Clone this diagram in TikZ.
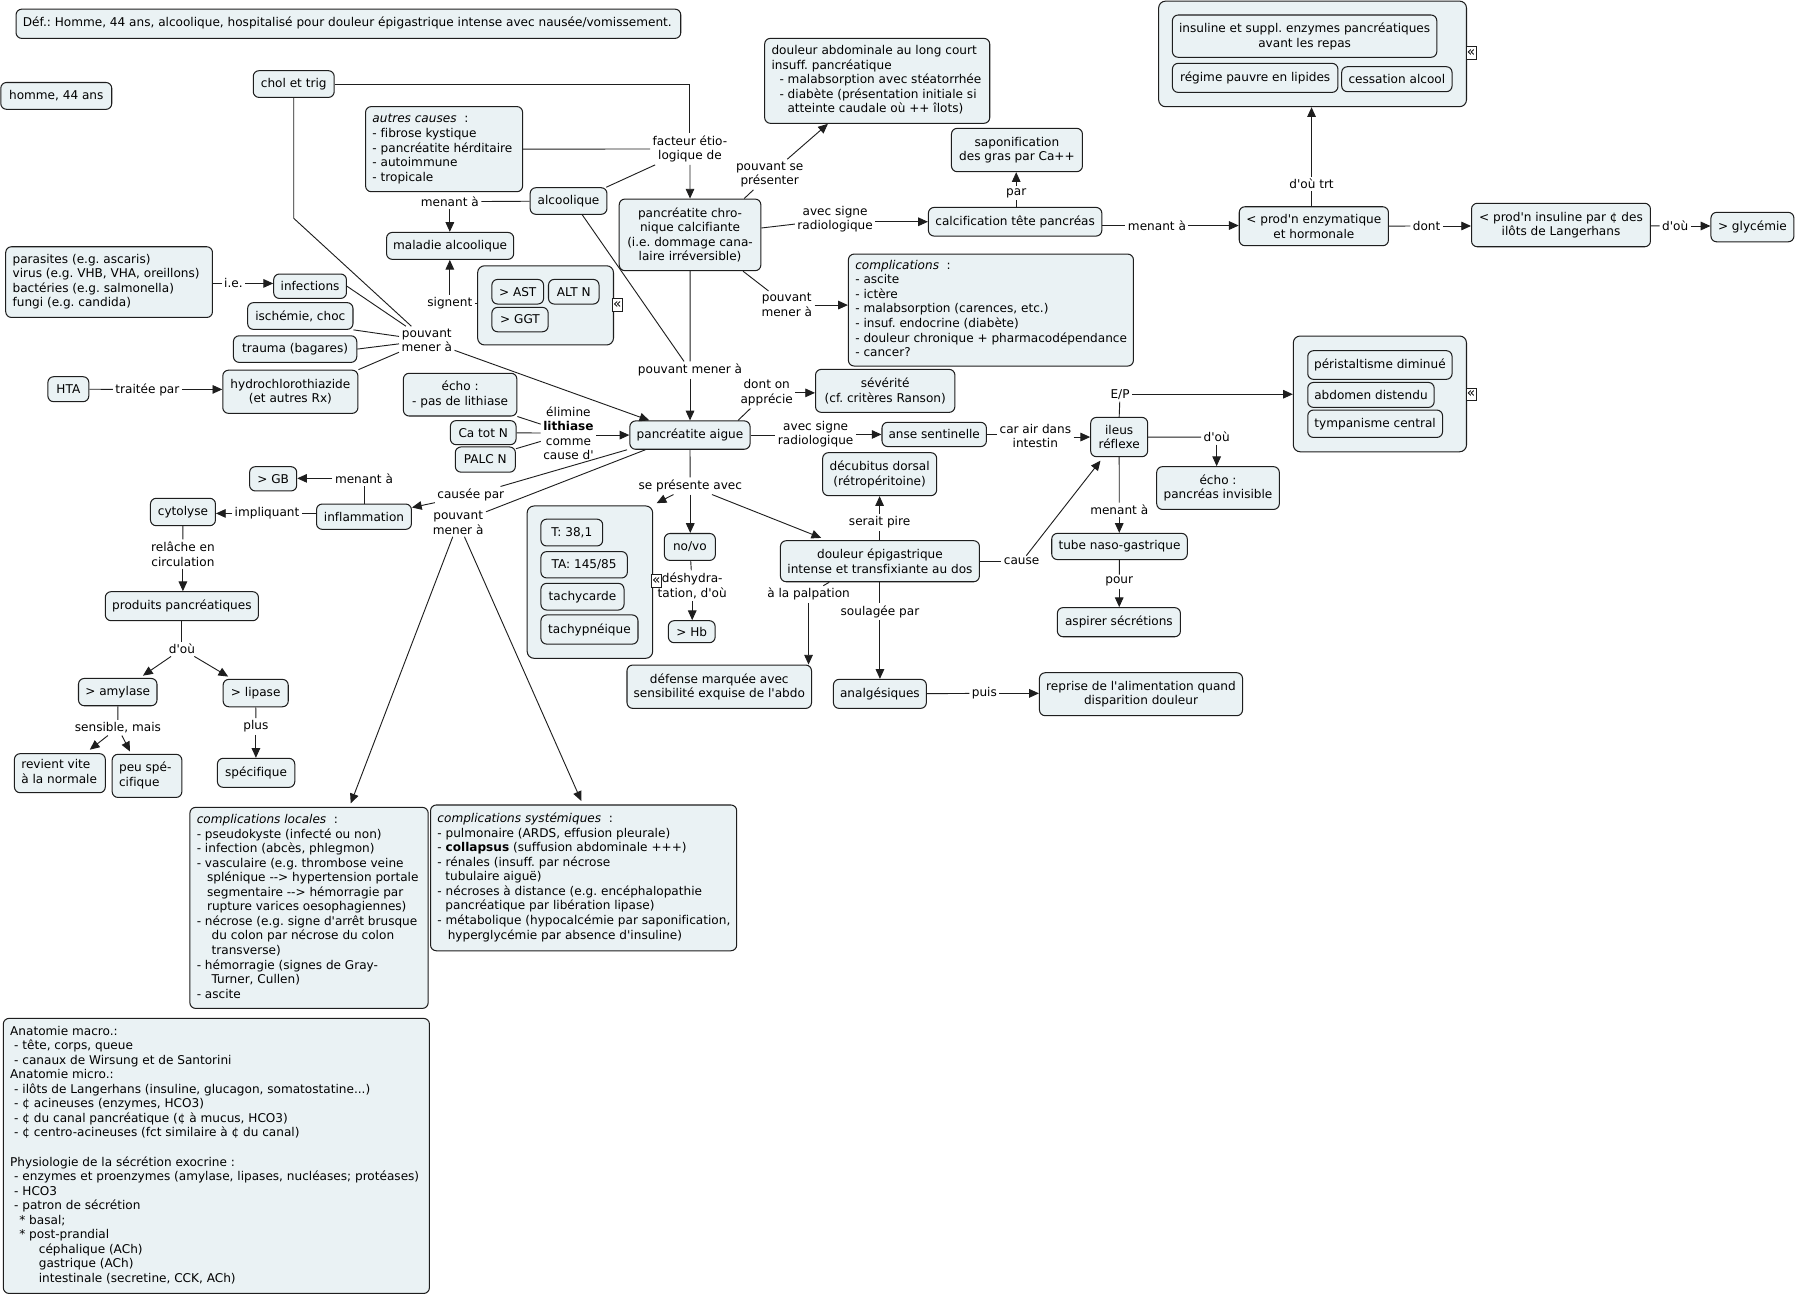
\documentclass[tikz,border=0pt]{standalone}
\usepackage{fontspec}
\setmainfont{DejaVu Sans}[Ligatures={TeXOff,NoCommon}]
\frenchspacing
\usetikzlibrary{arrows.meta}
\definecolor{boxfill}{RGB}{234,242,244}
\definecolor{edge}{RGB}{30,30,30}
\tikzset{
 box/.style={draw=edge, fill=boxfill, rounded corners=5pt, line width=0.9pt, inner xsep=4pt, inner ysep=2pt, align=center},
 lbox/.style={box, inner xsep=6pt},
 grp/.style={draw=edge, fill=boxfill, rounded corners=6pt, line width=0.9pt, inner sep=0pt},
 lbl/.style={inner sep=2pt, align=center},
 ln/.style={line width=0.8pt, draw=edge},
 arr/.style={line width=0.8pt, draw=edge, -{Triangle[length=8.5pt,width=7.5pt]}},
 icon/.style={draw=edge, fill=white, line width=0.7pt, inner sep=0pt, minimum width=9pt, minimum height=11pt, font=\fontsize{12}{12}\selectfont}
}
\newcommand{\bx}[7][]{%
 \pgfmathsetmacro{\bw}{#5-#3}\pgfmathsetmacro{\bh}{#6-#4}%
 \pgfmathsetmacro{\bcx}{(#3+#5)/2}\pgfmathsetmacro{\bcy}{(#4+#6)/2}%
 \node[box,minimum width=\bw pt,minimum height=\bh pt,#1] (#2) at (\bcx,\bcy) {#7};}
\newcommand{\lbx}[7][]{%
 \pgfmathsetmacro{\bw}{#5-#3}\pgfmathsetmacro{\bh}{#6-#4}\pgfmathsetmacro{\tw}{#5-#3-12}%
 \pgfmathsetmacro{\bcx}{(#3+#5)/2}\pgfmathsetmacro{\bcy}{(#4+#6)/2}%
 \node[lbox,minimum width=\bw pt,minimum height=\bh pt,#1] (#2) at (\bcx,\bcy) {\makebox[\tw pt][l]{\begin{tabular}{@{}l@{}}#7\end{tabular}}};}
\newcommand{\gbx}[5]{%
 \pgfmathsetmacro{\bw}{#4-#2}\pgfmathsetmacro{\bh}{#5-#3}%
 \pgfmathsetmacro{\bcx}{(#2+#4)/2}\pgfmathsetmacro{\bcy}{(#3+#5)/2}%
 \node[grp,minimum width=\bw pt,minimum height=\bh pt] (#1) at (\bcx,\bcy) {};}
\newcommand{\lb}[4]{\node[lbl] (#1) at (#2,#3) {#4};}
\begin{document}
\begin{tikzpicture}[x=1pt,y=-1pt,font=\fontsize{10.55}{12.7}\selectfont]
\fill[white] (0,0) rectangle (1568,1131);
\useasboundingbox (0,0) rectangle (1568,1131);

% ---------- groups
\gbx{grpA}{416.8}{231.9}{535.3}{301}
\gbx{trt}{1011}{1}{1279.6}{93.1}
\gbx{grpP}{1128.5}{293.2}{1279.6}{394.2}
\gbx{grpF}{460}{441.5}{569.5}{574.4}

% ---------- boxes
\lbx{def}{14}{8}{594}{33.5}{Déf.: Homme, 44 ans, alcoolique, hospitalisé pour douleur épigastrique intense avec nausée/vomissement.}
\bx{homme}{0.7}{72}{97.5}{95.4}{homme, 44 ans}
\bx{chol}{221}{61.7}{291.6}{85}{chol et trig}
\lbx{autres}{319}{93}{456}{167.3}{\textit{autres causes}\ \ :\\- fibrose kystique\\- pancréatite hérditaire\\- autoimmune\\- tropicale}
\bx{alcool}{462.6}{163.8}{529.6}{187}{alcoolique}
\bx{maladie}{337.3}{202.8}{448.2}{226.3}{maladie alcoolique}
\bx{ast}{429.2}{243.8}{474.3}{265.3}{> AST}
\bx{alt}{478.6}{243.8}{522.7}{265.3}{ALT N}
\bx{ggt}{429.2}{268.2}{478.3}{289.5}{> GGT}
\bx{pcc}{540.3}{173.7}{663.9}{236.2}{pancréatite chro-\\nique calcifiante\\(i.e. dommage cana-\\laire irréversible)}
\lbx{doulabd}{667.2}{33.5}{863.6}{107.6}{douleur abdominale au long court\\insuff. pancréatique\\\hspace*{7pt}- malabsorption avec stéatorrhée\\\hspace*{7pt}- diabète (présentation initiale si\\\hspace*{14pt}atteinte caudale où ++ îlots)}
\bx{sapo}{830.2}{112}{944.5}{149.8}{saponification\\des gras par Ca++}
\bx{calc}{810.1}{181}{961.4}{206}{calcification tête pancréas}
\bx{prodenz}{1081.3}{180.4}{1211.5}{214.4}{< prod'n enzymatique\\et hormonale}
\bx{insul}{1023}{13.1}{1253.7}{50}{insuline et suppl. enzymes pancréatiques\\avant les repas}
\bx{regime}{1023}{55.3}{1167.4}{80.6}{régime pauvre en lipides}
\bx{cessation}{1170.7}{58.2}{1267}{80}{cessation alcool}
\bx{prodins}{1284}{177.4}{1440.1}{215.3}{< prod'n insuline par ¢ des\\ilôts de Langerhans}
\bx{glyc}{1492.9}{185.3}{1565.3}{211}{> glycémie}
\lbx{compc}{740.3}{221.7}{989}{319.4}{\textit{complications}\ \ :\\- ascite\\- ictère\\- malabsorption (carences, etc.)\\- insuf. endocrine (diabète)\\- douleur chronique + pharmacodépendance\\- cancer?}
\bx{sever}{711.6}{322.3}{833.2}{359.8}{sévérité\\(cf. critères Ranson)}
\bx{pa}{549.6}{367.3}{654.5}{392}{pancréatite aigue}
\lbx{parasites}{5}{215.3}{185.4}{277}{parasites (e.g. ascaris)\\virus (e.g. VHB, VHA, oreillons)\\bactéries (e.g. salmonella)\\fungi (e.g. candida)}
\bx{infect}{238.8}{239.1}{302.3}{260.4}{infections}
\bx{ischem}{216.1}{264.1}{308}{287.4}{ischémie, choc}
\bx{trauma}{203.7}{293}{311.3}{316.2}{trauma (bagares)}
\bx{hta}{41.8}{328.7}{77.5}{350.5}{HTA}
\bx{hydro}{194.4}{323}{312.3}{360.7}{hydrochlorothiazide\\(et autres Rx)}
\bx{echo1}{352}{325.7}{451}{363}{écho :\\- pas de lithiase}
\bx{catot}{393}{367}{450.3}{388}{Ca tot N}
\bx{palc}{397.3}{390}{449.7}{412}{PALC N}
\bx{anse}{769.6}{368.5}{860.7}{389.7}{anse sentinelle}
\bx{ileus}{951.7}{364.2}{1001.4}{398.5}{ileus\\réflexe}
\bx{perist}{1141.1}{306}{1267}{331}{péristaltisme diminué}
\bx{abdom}{1141.1}{333.7}{1251.4}{355.5}{abdomen distendu}
\bx{tympan}{1141.1}{357.8}{1258.7}{381.7}{tympanisme central}
\bx{echo2}{1009.3}{407.2}{1116.3}{444.5}{écho :\\pancréas invisible}
\bx{tube}{917.7}{465.4}{1036}{488.3}{tube naso-gastrique}
\bx{aspir}{922.6}{530.2}{1030}{555.6}{aspirer sécrétions}
\bx{douleur}{681}{471.8}{854.6}{507.6}{douleur épigastrique\\intense et transfixiante au dos}
\bx{decub}{717.8}{395}{817.3}{432.5}{décubitus dorsal\\(rétropéritoine)}
\bx{temp}{472}{453}{525.9}{476.4}{T: 38,1}
\bx{ta}{472}{481.3}{547.4}{504.3}{TA: 145/85}
\bx{tachyc}{472}{509}{544.5}{532.3}{tachycarde}
\bx{tachyp}{472}{536.6}{556.7}{562}{tachypnéique}
\bx{novo}{579.7}{465.5}{624.2}{489}{no/vo}
\bx{hb}{583.2}{541.6}{624}{560.8}{> Hb}
\bx{defense}{547.1}{580.3}{708.1}{618.1}{défense marquée avec\\sensibilité exquise de l'abdo}
\bx{analg}{727.2}{592.8}{808.3}{618.1}{analgésiques}
\bx{reprise}{907}{587}{1084.2}{624.5}{reprise de l'alimentation quand\\disparition douleur}
\bx{inflam}{276.2}{439.8}{359}{461.9}{inflammation}
\bx{gb}{217.8}{407.2}{258.9}{428.4}{> GB}
\bx{cytol}{131.3}{434.8}{188}{458.7}{cytolyse}
\bx{produits}{91.9}{516.3}{225.5}{541.6}{produits pancréatiques}
\bx{amyl}{68.5}{592}{137}{615.8}{> amylase}
\bx{lipase}{194.7}{592.8}{251.5}{616.7}{> lipase}
\lbx{revient}{12.6}{657.6}{91.9}{691.7}{revient vite\\à la normale}
\lbx{peuspe}{97.9}{658.2}{158.7}{695.8}{peu spé-\\cifique}
\bx{specif}{189.7}{661.7}{257.2}{687}{spécifique}
\lbx{compl}{165.7}{704.5}{373.6}{879.9}{\textit{complications locales}\ \ :\\- pseudokyste (infecté ou non)\\- infection (abcès, phlegmon)\\- vasculaire (e.g. thrombose veine\\\hspace*{9pt}splénique --> hypertension portale\\\hspace*{9pt}segmentaire --> hémorragie par\\\hspace*{9pt}rupture varices oesophagiennes)\\- nécrose (e.g. signe d'arrêt brusque\\\hspace*{13pt}du colon par nécrose du colon\\\hspace*{13pt}transverse)\\- hémorragie (signes de Gray-\\\hspace*{13pt}Turner, Cullen)\\- ascite}
\lbx{comps}{375.7}{702.4}{642.8}{829.6}{\textit{complications systémiques}\ \ :\\- pulmonaire (ARDS, effusion pleurale)\\- \textbf{collapsus} (suffusion abdominale +++)\\- rénales (insuff. par nécrose\\\hspace*{7pt}tubulaire aiguë)\\- nécroses à distance (e.g. encéphalopathie\\\hspace*{7pt}pancréatique par libération lipase)\\- métabolique (hypocalcémie par saponification,\\\hspace*{9pt}hyperglycémie par absence d'insuline)}
\lbx{anat}{2.9}{888.6}{374.7}{1128.6}{Anatomie macro.:\\\hspace*{3.5pt}- tête, corps, queue\\\hspace*{3.5pt}- canaux de Wirsung et de Santorini\\Anatomie micro.:\\\hspace*{3.5pt}- ilôts de Langerhans (insuline, glucagon, somatostatine...)\\\hspace*{3.5pt}- ¢ acineuses (enzymes, HCO3)\\\hspace*{3.5pt}- ¢ du canal pancréatique (¢ à mucus, HCO3)\\\hspace*{3.5pt}- ¢ centro-acineuses (fct similaire à ¢ du canal)\\ \\Physiologie de la sécrétion exocrine :\\\hspace*{3.5pt}- enzymes et proenzymes (amylase, lipases, nucléases; protéases)\\\hspace*{3.5pt}- HCO3\\\hspace*{3.5pt}- patron de sécrétion\\\hspace*{8pt}* basal;\\\hspace*{8pt}* post-prandial\\\hspace*{25pt}céphalique (ACh)\\\hspace*{25pt}gastrique (ACh)\\\hspace*{25pt}intestinale (secretine, CCK, ACh)}

% ---------- icons
\node[icon] (iconA) at (538.6,266.2) {«};
\node[icon] (iconT) at (1283.6,46) {«};
\node[icon] (iconP) at (1283.6,344.1) {«};
\node[icon] (iconF) at (572.6,507) {«};

% ---------- link labels
\lb{lMenant1}{392.5}{176}{menant à}
\lb{lSignent}{392.5}{264.7}{signent}
\lb{lFacteur}{602}{130}{facteur étio-\\logique de}
\lb{lPresenter}{671.6}{152.3}{pouvant se\\présenter}
\lb{lRadio1}{728.7}{191.4}{avec signe\\radiologique}
\lb{lPar}{886.7}{168.7}{par}
\lb{lMenant2}{1009.5}{196.8}{menant à}
\lb{lTrt}{1144.4}{160.6}{d'où trt}
\lb{lDont}{1244.8}{197.2}{dont}
\lb{lDou1}{1461.7}{197.2}{d'où}
\lb{lMener1}{686.5}{266.2}{pouvant\\mener à}
\lb{lMener2}{602.1}{322.9}{pouvant mener à}
\lb{lApprecie}{669}{342.8}{dont on\\apprécie}
\lb{lMenerL}{372.4}{297}{pouvant\\mener à}
\lb{lIe}{203.7}{247.3}{i.e.}
\lb{lTraitee}{128.6}{339.8}{traitée par}
\lb{lElimine}{496}{378}{élimine\\\textbf{lithiase}\\comme\\cause d'}
\lb{lRadio2}{711.7}{378.7}{avec signe\\radiologique}
\lb{lAir}{903.4}{380.5}{car air dans\\intestin}
\lb{lEP}{977.3}{344}{E/P}
\lb{lDou2}{1061.6}{381.5}{d'où}
\lb{lMenant3}{976.6}{445}{menant à}
\lb{lPour}{976.6}{507.6}{pour}
\lb{lCause}{891.4}{490.1}{cause}
\lb{lPire}{767.5}{456}{serait pire}
\lb{lPresente}{602.3}{424}{se présente avec}
\lb{lDeshyd}{604}{511}{déshydra-\\tation, d'où}
\lb{lPalp}{705.5}{518.6}{à la palpation}
\lb{lSoulage}{767.8}{533.7}{soulagée par}
\lb{lPuis}{858.9}{605}{puis}
\lb{lCausee}{410.8}{432}{causée par}
\lb{lMenant4}{317.6}{417.4}{menant à}
\lb{lImpl}{233}{448}{impliquant}
\lb{lRelache}{159.6}{483.4}{relâche en\\circulation}
\lb{lDou3}{158.7}{566.3}{d'où}
\lb{lSensible}{102.9}{635}{sensible, mais}
\lb{lPlus}{223.3}{634}{plus}
\lb{lMenerPA}{399.8}{456}{pouvant\\mener à}
\coordinate (cholbend) at (256.3,190.5);

% ---------- connectors
\draw[ln] (alcool) -- (lMenant1);
\draw[arr] (lMenant1) -- (lMenant1 |- maladie.north);
\draw[ln] (lSignent) -- (lSignent -| grpA.west);
\draw[arr] (lSignent) -- (lSignent |- maladie.south);
\draw[ln] (chol.east) -| (lFacteur.north);
\draw[ln] (autres) -- (lFacteur);
\draw[ln] ([xshift=-1pt]alcool.north east) -- (lFacteur);
\draw[arr] (lFacteur) -- (pcc.north);
\draw[ln] ([xshift=-15pt]pcc.north east) -- (lPresenter);
\draw[arr] (lPresenter) -- (doulabd);
\draw[ln] ([yshift=6pt]pcc.east) -- (lRadio1);
\draw[arr] (lRadio1.east |- calc.west) -- (calc.west);
\draw[ln] (calc.north -| lPar) -- (lPar);
\draw[arr] (lPar) -- (lPar |- sapo.south);
\draw[ln] (calc.east |- lMenant2) -- (lMenant2);
\draw[arr] (lMenant2) -- (lMenant2 -| prodenz.west);
\draw[ln] (prodenz.north -| lTrt) -- (lTrt);
\draw[arr] (lTrt) -- (lTrt |- trt.south);
\draw[ln] (prodenz) -- (lDont);
\draw[arr] (lDont) -- (lDont -| prodins.west);
\draw[ln] (prodins) -- (lDou1);
\draw[arr] (lDou1) -- (lDou1 -| glyc.west);
\draw[ln] ([xshift=-16pt]pcc.south east) -- (lMener1);
\draw[arr] (lMener1) -- (lMener1 -| compc.west);
\draw[ln] (pcc.south) -- (lMener2);
\draw[arr] (lMener2) -- (lMener2 |- pa.north);
\draw[ln] ([xshift=-22pt]alcool.south east) -- (lMener2);
\draw[ln] ([xshift=-11pt]pa.north east) -- (lApprecie);
\draw[arr] (lApprecie) -- (lApprecie -| sever.west);
\draw[ln] (chol.south) -- (cholbend) -- (lMenerL);
\draw[ln] (infect.east) -- (lMenerL);
\draw[ln] (ischem.south east) -- (lMenerL);
\draw[ln] (trauma.east) -- (lMenerL);
\draw[ln] (hydro.north east) -- (lMenerL);
\draw[arr] (lMenerL) -- (pa);
\draw[ln] (parasites.east |- lIe) -- (lIe);
\draw[arr] (lIe) -- (lIe -| infect.west);
\draw[ln] (hta) -- (lTraitee);
\draw[arr] (lTraitee) -- (lTraitee -| hydro.west);
\draw[ln] (echo1.south east) -- (lElimine);
\draw[ln] (catot) -- (lElimine);
\draw[ln] ([yshift=-2pt]palc.north east) -- (lElimine);
\draw[arr] (lElimine.east |- pa.west) -- (pa.west);
\draw[ln] (pa.east) -- (pa.east -| lRadio2.west);
\draw[arr] (lRadio2.east |- anse.west) -- (anse.west);
\draw[ln] (anse.east) -- (anse.east -| lAir.west);
\draw[arr] (lAir.east |- ileus.west) -- (ileus.west);
\draw[ln] (ileus.north) -- (lEP);
\draw[arr] (lEP) -- (lEP -| grpP.west);
\draw[ln] (ileus) -- (lDou2);
\draw[arr] (lDou2) -- (lDou2 |- echo2.north);
\draw[ln] (ileus) -- (lMenant3);
\draw[arr] (lMenant3) -- (lMenant3 |- tube.north);
\draw[ln] (tube) -- (lPour);
\draw[arr] (lPour) -- (lPour |- aspir.north);
\draw[ln] (douleur.east |- lCause) -- (lCause);
\draw[arr] (lCause) -- ([xshift=9pt,yshift=-3pt]ileus.south west);
\draw[ln] (douleur.north -| lPire) -- (lPire);
\draw[arr] (lPire) -- (lPire |- decub.south);
\draw[ln] (pa.south) -- (lPresente);
\draw[arr] (lPresente) -- ([xshift=3pt,yshift=2pt]grpF.north east);
\draw[arr] (lPresente) -- (lPresente |- novo.north);
\draw[arr] (lPresente) -- ([xshift=36pt,yshift=2pt]douleur.north west);
\draw[ln] (novo) -- (lDeshyd);
\draw[arr] (lDeshyd) -- (lDeshyd |- hb.north);
\draw[ln] ([xshift=43pt]douleur.south west) -- (lPalp);
\draw[arr] (lPalp) -- (lPalp |- defense.north);
\draw[ln] (douleur.south -| lSoulage) -- (lSoulage);
\draw[arr] (lSoulage) -- (lSoulage |- analg.north);
\draw[ln] (analg) -- (lPuis);
\draw[arr] (lPuis) -- (lPuis -| reprise.west);
\draw[ln] ([xshift=-2pt]pa.south west) -- (lCausee);
\draw[arr] (lCausee) -- ([yshift=8pt]inflam.east);
\draw[ln] ([xshift=14pt]pa.south west) -- (lMenerPA);
\draw[arr] (lMenerPA) -- ([xshift=-68pt,yshift=3pt]compl.north east);
\draw[arr] (lMenerPA) -- ([xshift=132pt,yshift=3pt]comps.north west);
\draw[ln] (inflam.north -| lMenant4) -- (lMenant4);
\draw[arr] (lMenant4) -- (lMenant4 -| gb.east);
\draw[ln] (inflam.west |- lImpl) -- (lImpl);
\draw[arr] (lImpl) -- (lImpl -| cytol.east);
\draw[ln] (cytol) -- (lRelache);
\draw[arr] (lRelache) -- (lRelache |- produits.north);
\draw[ln] (produits) -- (lDou3);
\draw[arr] (lDou3) -- ([xshift=22pt,yshift=2pt]amyl.north);
\draw[arr] (lDou3) -- ([xshift=-24pt,yshift=2pt]lipase.north);
\draw[ln] (amyl) -- (lSensible);
\draw[arr] (lSensible) -- ([xshift=-14pt,yshift=3pt]revient.north east);
\draw[arr] (lSensible) -- ([xshift=16pt,yshift=2pt]peuspe.north west);
\draw[ln] (lipase) -- (lPlus);
\draw[arr] (lPlus) -- (lPlus |- specif.north);
\end{tikzpicture}
\end{document}
